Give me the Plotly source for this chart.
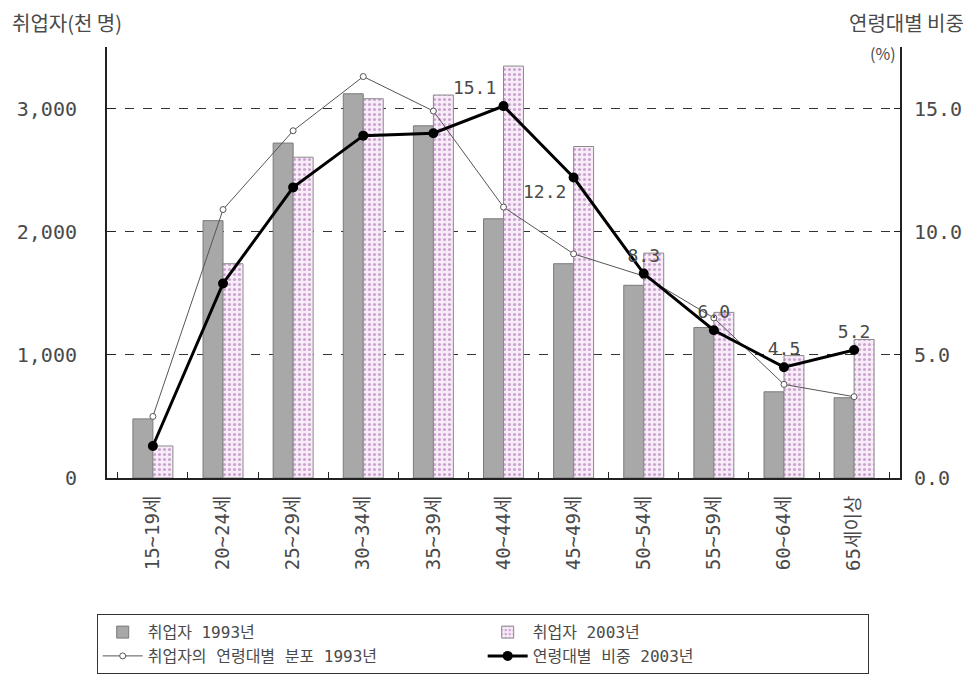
import plotly.graph_objects as go

FONT = "Noto Sans CJK KR, DejaVu Sans, sans-serif"
NUM_FONT = "DejaVu Sans Mono, Noto Sans CJK KR, monospace"
TEXT_COLOR = "#4a4a4a"

age_groups = ["15~19세", "20~24세", "25~29세", "30~34세", "35~39세", "40~44세",
              "45~49세", "50~54세", "55~59세", "60~64세", "65세이상"]
employed_1993 = [480, 2090, 2720, 3120, 2860, 2105, 1740, 1565, 1222, 700, 652]
employed_2003 = [260, 1740, 2605, 3080, 3110, 3345, 2692, 1826, 1345, 994, 1125]
share_1993 = [2.5, 10.9, 14.1, 16.3, 14.9, 11.0, 9.1, 8.2, 6.5, 3.8, 3.3]
share_2003 = [1.3, 7.9, 11.8, 13.9, 14.0, 15.1, 12.2, 8.3, 6.0, 4.5, 5.2]
share_2003_labels = ["", "", "", "", "", "15.1", "12.2", "8.3", "6.0", "4.5", "5.2"]
label_pos = ["top center"] * 5 + ["top left", "bottom left"] + ["top center"] * 4

fig = go.Figure()
fig.add_trace(go.Bar(
    x=age_groups, y=employed_1993, name="취업자 1993년",
    marker=dict(color="#a8a8a8", line=dict(color="#7a7a7a", width=1)),
))
fig.add_trace(go.Bar(
    x=age_groups, y=employed_2003, name="취업자 2003년",
    marker=dict(color="#f7ecf7", line=dict(color="#8a8a8a", width=1),
                pattern=dict(shape=".", fgcolor="#a05aa8", bgcolor="#f7ecf7",
                             size=5, solidity=0.3)),
))
fig.add_trace(go.Scatter(
    x=age_groups, y=share_1993, yaxis="y2", name="취업자의 연령대별 분포 1993년",
    mode="lines+markers",
    line=dict(color="#555555", width=1),
    marker=dict(symbol="circle", size=6, color="white", line=dict(color="#555555", width=1)),
))
fig.add_trace(go.Scatter(
    x=age_groups, y=share_2003, yaxis="y2", name="연령대별 비중 2003년",
    mode="lines+markers+text", text=share_2003_labels, textposition=label_pos,
    textfont=dict(size=18, color=TEXT_COLOR, family=NUM_FONT),
    line=dict(color="black", width=3),
    marker=dict(symbol="circle", size=10, color="black"),
))

# page body has an 8px margin, so the figure is drawn 8px smaller
fig.update_layout(
    width=966, height=666,
    paper_bgcolor="white", plot_bgcolor="white",
    margin=dict(l=99, r=74, t=39, b=196, autoexpand=False),
    font=dict(family=FONT, size=16, color=TEXT_COLOR),
    barmode="group", bargap=0.43, bargroupgap=0,
    showlegend=True,
    legend=dict(
        orientation="h", x=-0.013, y=-0.316, xanchor="left", yanchor="top",
        entrywidth=330, entrywidthmode="pixels",
        bordercolor="#333333", borderwidth=1, bgcolor="white",
        font=dict(size=16, color=TEXT_COLOR, family=NUM_FONT),
        tracegroupgap=0, itemwidth=40,
    ),
    xaxis=dict(
        type="category", tickangle=-90, showline=True, linecolor="#222222", linewidth=2,
        ticks="inside", tickson="boundaries", ticklen=6, tickcolor="#222222",
        showgrid=False, tickfont=dict(size=19, color=TEXT_COLOR, family=NUM_FONT),
        ticklabelstandoff=8,
    ),
    yaxis=dict(
        range=[0, 3500], tickvals=[0, 1000, 2000, 3000], tickformat=",",
        showline=True, linecolor="#222222", linewidth=2,
        ticks="inside", ticklen=8, tickcolor="#222222",
        showgrid=True, gridcolor="#333333", griddash="dash", gridwidth=1,
        zeroline=False, tickfont=dict(size=20, color=TEXT_COLOR, family=NUM_FONT),
        ticklabelstandoff=24,
    ),
    yaxis2=dict(
        range=[0, 17.5], tickvals=[0, 5, 10, 15], tickformat=".1f",
        overlaying="y", side="right",
        showline=True, linecolor="#222222", linewidth=2,
        ticks="inside", ticklen=6, tickcolor="#222222",
        showgrid=False, zeroline=False,
        tickfont=dict(size=20, color=TEXT_COLOR, family=NUM_FONT),
        ticklabelstandoff=8,
    ),
    annotations=[
        dict(text="취업자(천 명)", xref="paper", yref="paper", x=-0.122, y=1.058,
             xanchor="left", yanchor="middle", showarrow=False,
             font=dict(size=20, color=TEXT_COLOR)),
        dict(text="연령대별 비중", xref="paper", yref="paper", x=1.083, y=1.058,
             xanchor="right", yanchor="middle", showarrow=False,
             font=dict(size=20, color=TEXT_COLOR)),
        dict(text="(%)", xref="paper", yref="paper", x=0.997, y=0.985,
             xanchor="right", yanchor="middle", showarrow=False,
             font=dict(size=16, color=TEXT_COLOR)),
    ],
)

fig.write_html("out.html")
